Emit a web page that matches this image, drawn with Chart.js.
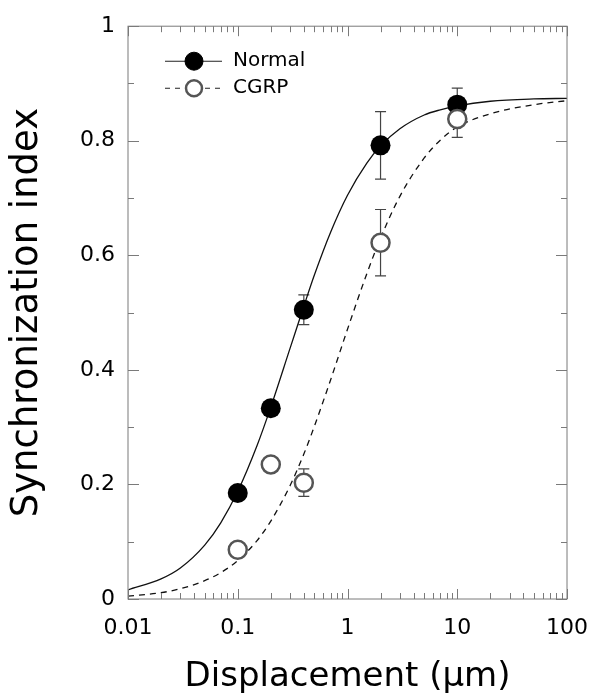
<!DOCTYPE html>
<html>
<head>
<meta charset="utf-8">
<script src="https://cdn.jsdelivr.net/npm/chart.js@4.4.0/dist/chart.umd.min.js"></script>
<style>
  html, body { margin: 0; padding: 0; background: #fff; }
  #wrap { width: 604px; height: 699px; }
</style>
</head>
<body>
<div id="wrap"><canvas id="chart" width="604" height="699"></canvas></div>
<script>
// displacement steps (um) and mean synchronization index
const dispX = [0.1, 0.2, 0.4, 2, 10]
const normalY = [0.185, 0.333, 0.505, 0.792, 0.863]
const normalErr = [0.01, 0.012, 0.026, 0.059, 0.029]
const cgrpY = [0.086, 0.235, 0.203, 0.622, 0.838]
const cgrpErr = [0.012, 0.01, 0.024, 0.058, 0.032]

// fitted curves, sampled along the displacement axis
const fitX = [0.01, 0.02, 0.03, 0.05, 0.07, 0.1, 0.15, 0.2, 0.3, 0.4, 0.5, 0.7, 1, 1.5, 2, 3, 5, 7, 10, 20, 50, 100]
const normalFit = [0.016, 0.035, 0.054, 0.094, 0.133, 0.188, 0.268, 0.335, 0.438, 0.511, 0.566, 0.64, 0.705, 0.761, 0.791, 0.821, 0.845, 0.854, 0.861, 0.869, 0.873, 0.874]
const cgrpFit = [0.005, 0.011, 0.018, 0.032, 0.046, 0.067, 0.102, 0.136, 0.198, 0.253, 0.302, 0.382, 0.471, 0.568, 0.63, 0.703, 0.77, 0.801, 0.824, 0.847, 0.863, 0.87]

const xTicks = [0.01, 0.1, 1, 10, 100]
const xTickLabels = ['0.01', '0.1', '1', '10', '100']
const yTicks = [0, 0.2, 0.4, 0.6, 0.8, 1]
const yTickLabels = ['0', '0.2', '0.4', '0.6', '0.8', '1']
const yMinor = [0.1, 0.3, 0.5, 0.7, 0.9]

const FONT = 'DejaVu Sans'
const INK = '#000'
const AXIS = '#7a7a7a'

Chart.defaults.font.family = FONT
Chart.defaults.color = INK

const pts = (xs, ys) => xs.map((x, i) => ({ x, y: ys[i] }))

// vertical error bars with caps, under the markers
const errorBars = {
  id: 'errorBars',
  beforeDatasetsDraw(chart) {
    const { ctx, scales: { x, y } } = chart
    ctx.save()
    ctx.strokeStyle = '#444'
    ctx.lineWidth = 1.2
    const draw = (ys, errs) => {
      ys.forEach((v, i) => {
        const px = x.getPixelForValue(dispX[i])
        const top = y.getPixelForValue(v + errs[i])
        const bot = y.getPixelForValue(v - errs[i])
        ctx.beginPath()
        ctx.moveTo(px, top)
        ctx.lineTo(px, bot)
        ctx.moveTo(px - 5.5, top)
        ctx.lineTo(px + 5.5, top)
        ctx.moveTo(px - 5.5, bot)
        ctx.lineTo(px + 5.5, bot)
        ctx.stroke()
      })
    }
    draw(normalY, normalErr)
    draw(cgrpY, cgrpErr)
    ctx.restore()
  },
}

// box frame with inward major/minor ticks on all four sides
const frameTicks = {
  id: 'frameTicks',
  afterDatasetsDraw(chart) {
    const { ctx, chartArea: a, scales: { x, y } } = chart
    ctx.save()
    ctx.strokeStyle = AXIS
    ctx.lineWidth = 1
    ctx.strokeRect(a.left, a.top, a.right - a.left, a.bottom - a.top)
    ctx.beginPath()
    const yTick = (v, len) => {
      const py = Math.round(y.getPixelForValue(v)) + 0.5
      ctx.moveTo(a.left, py); ctx.lineTo(a.left + len, py)
      ctx.moveTo(a.right, py); ctx.lineTo(a.right - len, py)
    }
    const xTick = (v, len) => {
      const px = Math.round(x.getPixelForValue(v)) + 0.5
      ctx.moveTo(px, a.bottom); ctx.lineTo(px, a.bottom - len)
      ctx.moveTo(px, a.top); ctx.lineTo(px, a.top + len)
    }
    yTicks.forEach(v => yTick(v, 11))
    yMinor.forEach(v => yTick(v, 6))
    xTicks.forEach(v => xTick(v, 10))
    xTicks.slice(0, -1).forEach(d => {
      for (let m = 2; m <= 9; m++) xTick(m * d, 6)
    })
    ctx.stroke()
    ctx.restore()
  },
}

// line + marker legend in the upper left corner
const legendBox = {
  id: 'legendBox',
  afterDraw(chart) {
    const { ctx, chartArea: a } = chart
    const x0 = a.left + 37, x1 = a.left + 94, mx = a.left + 66, tx = a.left + 105
    const rows = [
      { label: 'Normal', y: a.top + 35, dash: [], fill: '#000', stroke: '#000', r: 9, w: 1 },
      { label: 'CGRP', y: a.top + 62, dash: [5, 5], fill: '#fff', stroke: '#555', r: 8, w: 2.5 },
    ]
    ctx.save()
    rows.forEach(row => {
      ctx.setLineDash(row.dash)
      ctx.strokeStyle = '#222'
      ctx.lineWidth = 1.1
      ctx.beginPath()
      ctx.moveTo(x0, row.y)
      ctx.lineTo(x1, row.y)
      ctx.stroke()
      ctx.setLineDash([])
      ctx.beginPath()
      ctx.arc(mx, row.y, row.r, 0, Math.PI * 2)
      ctx.fillStyle = row.fill
      ctx.fill()
      ctx.lineWidth = row.w
      ctx.strokeStyle = row.stroke
      ctx.stroke()
      ctx.fillStyle = INK
      ctx.font = '20px "' + FONT + '"'
      ctx.textBaseline = 'middle'
      ctx.fillText(row.label, tx, row.y)
    })
    ctx.restore()
  },
}

new Chart(document.getElementById('chart').getContext('2d'), {
  type: 'scatter',
  data: {
    datasets: [
      {
        label: 'Normal fit',
        data: pts(fitX, normalFit),
        showLine: true,
        pointRadius: 0,
        borderColor: '#111',
        borderWidth: 1.3,
        cubicInterpolationMode: 'monotone',
        order: 4,
      },
      {
        label: 'CGRP fit',
        data: pts(fitX, cgrpFit),
        showLine: true,
        pointRadius: 0,
        borderColor: '#111',
        borderWidth: 1.3,
        borderDash: [6, 5],
        cubicInterpolationMode: 'monotone',
        order: 3,
      },
      {
        label: 'Normal',
        data: pts(dispX, normalY),
        pointRadius: 10,
        pointBackgroundColor: '#000',
        pointBorderColor: '#000',
        pointBorderWidth: 0,
        order: 2,
      },
      {
        label: 'CGRP',
        data: pts(dispX, cgrpY),
        pointRadius: 9,
        pointBackgroundColor: '#fff',
        pointBorderColor: '#555',
        pointBorderWidth: 2.5,
        order: 1,
      },
    ],
  },
  options: {
    responsive: false,
    animation: false,
    layout: { padding: { top: 17, right: 36, left: 0, bottom: 0 } },
    plugins: {
      legend: { display: false },
      tooltip: { enabled: false },
    },
    scales: {
      x: {
        type: 'logarithmic',
        min: 0.01,
        max: 100,
        grid: { display: false, drawTicks: false },
        border: { display: false },
        afterBuildTicks: s => { s.ticks = xTicks.map(v => ({ value: v })) },
        afterFit: s => { s.height = 100 },
        ticks: {
          font: { size: 22 },
          color: INK,
          padding: 16,
          maxRotation: 0,
          autoSkip: false,
          callback: (value, index) => xTickLabels[index],
        },
        title: {
          display: true,
          text: 'Displacement (μm)',
          font: { size: 34 },
          color: INK,
          padding: { top: 0, bottom: 1 },
        },
      },
      y: {
        min: 0,
        max: 1,
        grid: { display: false, drawTicks: false },
        border: { display: false },
        afterBuildTicks: s => { s.ticks = yTicks.map(v => ({ value: v })) },
        afterFit: s => { s.width = 128 },
        ticks: {
          font: { size: 22 },
          color: INK,
          padding: 13,
          callback: (value, index) => yTickLabels[index],
        },
        title: {
          display: true,
          text: 'Synchronization index',
          font: { size: 37 },
          color: INK,
          padding: { top: 5, bottom: 0 },
        },
      },
    },
  },
  plugins: [errorBars, frameTicks, legendBox],
})
</script>
</body>
</html>
